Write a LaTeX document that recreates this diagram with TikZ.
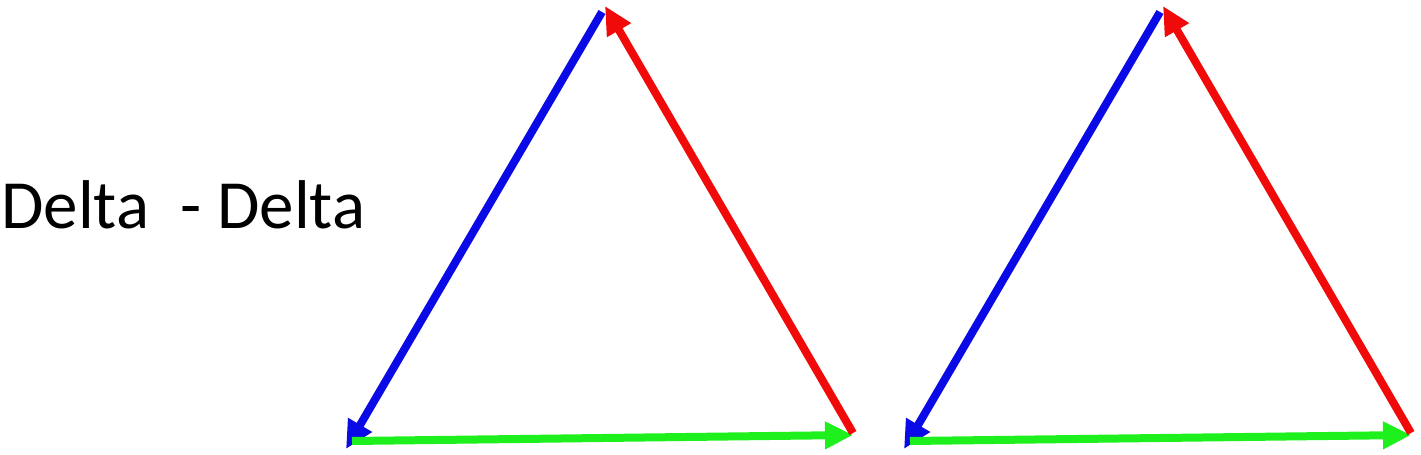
\documentclass[tikz,border=0pt]{standalone}
\usepackage{fontspec}
\setmainfont{Carlito}
\usetikzlibrary{arrows.meta}
\definecolor{phasered}{RGB}{240,10,10}
\definecolor{phaseblue}{RGB}{10,10,230}
\definecolor{phasegreen}{RGB}{30,240,30}
\tikzset{
    >={Triangle[length=14pt,width=13pt]},
    side/.style={
        line width=4pt,
    },
    sidered/.style={side,draw=phasered,fill=phasered},
    sideblue/.style={side,draw=phaseblue,fill=phaseblue},
    sidegreen/.style={side,draw=phasegreen,fill=phasegreen},
    title/.style={
        anchor=base west,
        inner sep=0pt,
        font=\fontsize{34.5}{41}\selectfont,
    },
}
\begin{document}
\begin{tikzpicture}[x=0.5pt,y=-0.5pt]
            \useasboundingbox (0,0) rectangle (1421,455);
            \node[title] (name) at (1,228) {Delta\ \ - Delta};

            \foreach \i/\dx in {1/0,2/558}{
                \coordinate (top\i) at (605+\dx,6);
                \coordinate (topb\i) at (602+\dx,12);
                \coordinate (left\i) at (346+\dx,449);
                \coordinate (leftg\i) at (352+\dx,441);
                \coordinate (right\i) at (853+\dx,435);
                \coordinate (rightr\i) at (853+\dx,433);

                \draw[sideblue,->] (topb\i) -- (left\i);
                \draw[sidegreen,->] (leftg\i) -- (right\i);
                \draw[sidered,->] (rightr\i) -- (top\i);
            }
        \end{tikzpicture}
\end{document}
